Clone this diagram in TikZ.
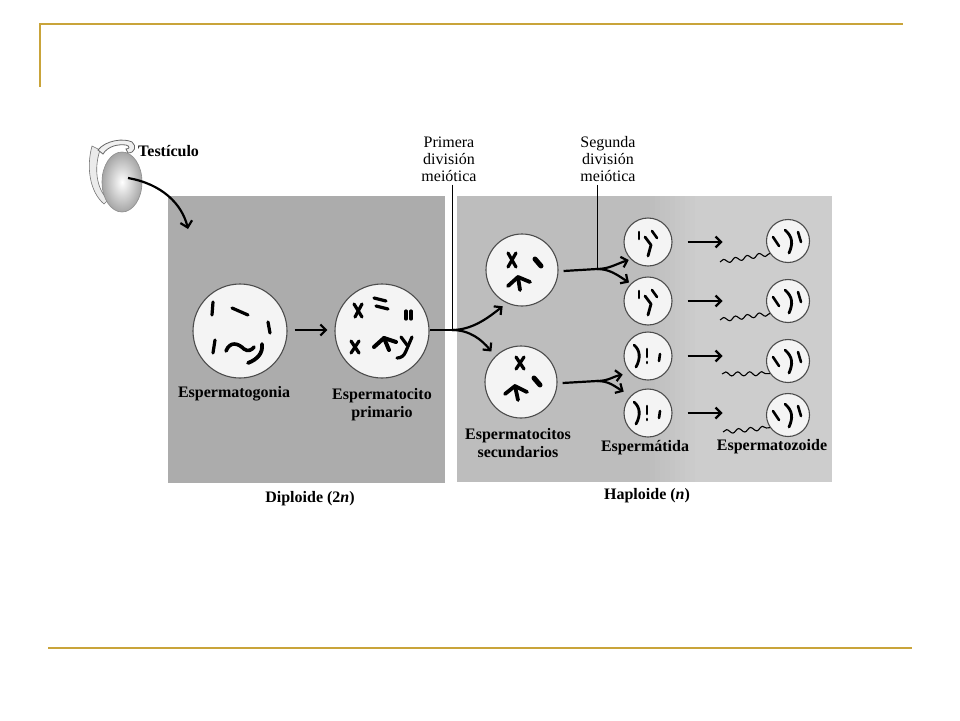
\documentclass[tikz,border=0pt]{standalone}
\usepackage{fontspec}
\setmainfont{Liberation Serif}
\usetikzlibrary{arrows.meta,decorations.pathmorphing,calc,shapes.geometric}
\definecolor{gold}{HTML}{C9A43A}
\definecolor{boxL}{HTML}{ACACAC}
\definecolor{boxR}{HTML}{BDBDBD}
\definecolor{boxRR}{HTML}{CDCDCD}
\definecolor{cellfill}{HTML}{F4F4F4}
\begin{document}
\begin{tikzpicture}[x=1pt,y=-1pt,
  lab/.style={font=\fontsize{16}{18}\selectfont\bfseries, align=center, inner sep=0pt},
  toplab/.style={font=\fontsize{16}{17}\selectfont, align=center, inner sep=0pt},
  cellbase/.style={circle, draw=black!70, line width=1.1pt, fill=cellfill, inner sep=0pt},
  bigcell/.style={cellbase, minimum size=94pt},
  midcell/.style={cellbase, minimum size=72pt},
  smallcell/.style={cellbase, minimum size=48pt},
  headcell/.style={cellbase, minimum size=43pt},
  chrom/.style={line width=3.2pt, line cap=round, line join=round, black},
  arr/.style={line width=2.2pt, -{Straight Barb[length=5.5pt,width=11pt]}},
  fline/.style={line width=2.2pt},
  tailline/.style={line width=1.1pt, decorate, decoration={snake, amplitude=2pt, segment length=12pt}},
  divline/.style={line width=1pt},
]
\useasboundingbox (0,0) rectangle (960,720);
\fill[white] (0,0) rectangle (960,720);

% slide frame lines
\draw[gold, line width=2.2pt] (40,87) -- (40,24) -- (903,24);
\draw[gold, line width=2.2pt] (48,648) -- (912,648);

% shaded panels
\fill[boxL] (168,196) rectangle (445,483);
\fill[boxR] (457,196) rectangle (832,482);
\foreach \k in {1,...,10}{
  \pgfmathsetmacro\pc{\k*10}
  \fill[boxRR!\pc!boxR] ({645+5*\k},196) rectangle ({651+5*\k},482);
}
\fill[boxRR] (700,196) rectangle (832,482);

% testicle
\draw[black!55, line width=0.6pt, fill=black!8] (92,146) .. controls (86,168) and (90,192) .. (104,204) -- (108,200) .. controls (96,188) and (94,168) .. (100,150) -- cycle;
\draw[black!60, line width=0.8pt, fill=black!6] (98,150) .. controls (106,140) and (124,138) .. (132,142) .. controls (137,146) and (135,153) .. (128,153) -- (126,149) .. controls (130,149) and (130,146) .. (126,145) .. controls (118,144) and (108,146) .. (103,154) -- cycle;
\node[ellipse, draw=black!45, line width=0.6pt, minimum width=40pt, minimum height=60pt, inner color=white, outer color=black!35] (testis) at (122,182) {};
\coordinate (tstart) at (128,178);
\node[lab, anchor=west] (tlab) at (138,151) {Testículo};
\draw[line width=2.2pt, -{Straight Barb[length=6pt,width=12pt]}] (tstart) .. controls (162,184) and (182,204) .. (188,229);

% cells
\node[bigcell] (g) at (240,331) {};
\node[bigcell] (p) at (382,331) {};
\node[midcell] (s1) at (522,270) {};
\node[midcell] (s2) at (521,382) {};
\node[smallcell] (t1) at (648,242) {};
\node[smallcell] (t2) at (648,301) {};
\node[smallcell] (t3) at (648,356) {};
\node[smallcell] (t4) at (648,413) {};
\node[headcell] (z1) at (788,241) {};
\node[headcell] (z2) at (788,301) {};
\node[headcell] (z3) at (788,361) {};
\node[headcell] (z4) at (788,415) {};

% chromosomes: spermatogonium
\begin{scope}[shift={(g.center)}]
  \draw[chrom] (-27,-29) -- (-28,-16);
  \draw[chrom] (-8,-23) -- (8,-16);
  \draw[chrom] (28,-9) -- (30,2);
  \draw[chrom] (-25,9) -- (-27,22);
  \draw[chrom, line width=3.6pt] (-14,20) .. controls (-10,10) and (-2,12) .. (4,18) .. controls (8,21) and (12,19) .. (14,16);
  \draw[chrom, line width=3.8pt] (22,13) .. controls (23,22) and (18,28) .. (8,32);
\end{scope}
% primary spermatocyte
\begin{scope}[shift={(p.center)}]
  \draw[chrom] (-28,-27) -- (-20,-14); \draw[chrom] (-20,-27) -- (-27,-14);
  \draw[chrom] (-8,-33) -- (4,-30); \draw[chrom] (-6,-25) -- (6,-22);
  \draw[chrom] (24,-20) -- (24,-12); \draw[chrom] (29,-20) -- (29,-12);
  \draw[chrom] (-31,10) -- (-23,22); \draw[chrom] (-23,10) -- (-31,22);
  \draw[chrom, line width=4pt] (-8,16) -- (2,7) -- (14,11); \draw[chrom, line width=4pt] (2,7) -- (7,19);
  \draw[chrom] (19,6) -- (25,14); \draw[chrom] (30,6) -- (24,20) .. controls (22,25) and (19,27) .. (15,27);
\end{scope}
% secondary spermatocytes
\begin{scope}[shift={(s1.center)}]
  \draw[chrom] (-14,-17) -- (-6,-3); \draw[chrom] (-6,-17) -- (-14,-3);
  \draw[chrom, line width=5pt] (13,-11) -- (19,-4);
  \draw[chrom, line width=3.8pt] (-14,16) -- (-4,7) -- (8,12); \draw[chrom, line width=3.8pt] (-4,7) -- (-2,20);
\end{scope}
\begin{scope}[shift={(s2.center)}]
  \draw[chrom] (-5,-25) -- (3,-13); \draw[chrom] (3,-25) -- (-5,-13);
  \draw[chrom, line width=5pt] (13,-4) -- (19,3);
  \draw[chrom, line width=3.8pt] (-16,12) -- (-6,4) -- (6,10); \draw[chrom, line width=3.8pt] (-6,4) -- (-3,18);
\end{scope}
% spermatids
\foreach \t in {t1,t2}{
\begin{scope}[shift={(\t.center)}]
  \draw[chrom, line width=2.6pt] (-9,-10) -- (-9,-3);
  \draw[chrom, line width=2.6pt] (4,-11) -- (9,-4);
  \draw[chrom, line width=2.8pt] (-3,-5) -- (3,3) -- (0,14);
\end{scope}}
\foreach \t in {t3,t4}{
\begin{scope}[shift={(\t.center)}]
  \draw[chrom, line width=2.8pt] (-14,-11) .. controls (-8,-6) and (-7,2) .. (-12,11);
  \draw[chrom, line width=2.6pt] (-1,-7) -- (-1,1); \draw[chrom, line width=2.6pt] (-1,6) -- (-1,7);
  \draw[chrom, line width=2.6pt] (12,-2) -- (11,5);
\end{scope}}
% sperm heads
\foreach \z in {z1,z2,z3,z4}{
\begin{scope}[shift={(\z.center)}]
  \draw[chrom, line width=2.6pt] (-15,-4) -- (-9,5);
  \draw[chrom, line width=2.8pt] (-3,-11) .. controls (5,-4) and (5,3) .. (1,12);
  \draw[chrom, line width=2.6pt] (10,-9) -- (13,1);
\end{scope}}
% sperm tails
\draw[tailline] ($(z1.center)+(-68,21)$) -- (z1.215);
\draw[tailline] ($(z2.center)+(-68,19)$) -- (z2.215);
\draw[tailline] ($(z3.center)+(-66,13)$) -- (z3.215);
\draw[tailline] ($(z4.center)+(-65,17)$) -- (z4.215);

% labels
\node[lab] (lg) at (234,394) {Espermatogonia};
\node[lab] (lp) at (382,405) {Espermatocito\\primario};
\node[lab] (ls) at (518,443) {Espermatocitos\\secundarios};
\node[lab] (lt) at (645,448) {Espermátida};
\node[lab] (lz) at (772,447) {Espermatozoide};
\node[lab] (dip) at (310,499) {Diploide (2\textit{n})};
\node[lab] (hap) at (647,496) {Haploide (\textit{n})};
\node[toplab] (prim) at (449,159) {Primera\\división\\meiótica};
\node[toplab] (seg) at (608,159) {Segunda\\división\\meiótica};

% arrows
\draw[arr] ([xshift=7pt,yshift=1pt]g.east) -- ([xshift=-7pt,yshift=1pt]p.west);
\coordinate (f1) at (452,330);
\draw[divline] (f1 |- prim.south) ++(0,3) -- (f1);
\draw[fline] ([yshift=1pt]p.east) -- (f1);
\draw[arr, shorten >=5pt] (f1) .. controls (472,330) and (488,318) .. (s1.245);
\draw[arr, shorten >=6pt] (f1) .. controls (470,330) and (482,340) .. (s2.135);

\coordinate (f2) at (597,269);
\draw[divline] (f2 |- seg.south) ++(0,3) -- (f2);
\draw[fline] ([xshift=5pt,yshift=-1pt]s1.east) -- (f2);
\draw[arr, shorten >=2pt] (f2) .. controls (609,269) and (616,264) .. (t1.225);
\draw[arr, shorten >=2pt] (f2) .. controls (609,269) and (616,274) .. (t2.135);

\coordinate (f3) at (597,381);
\draw[fline] ([xshift=5pt,yshift=-1pt]s2.east) -- (f3);
\draw[arr, shorten >=8pt] (f3) .. controls (609,381) and (614,376) .. (t3.225);
\draw[arr, shorten >=8pt] (f3) .. controls (609,381) and (614,386) .. (t4.135);

\foreach \t in {t1,t2,t3,t4}{
  \draw[arr] ([xshift=15pt]\t.east) -- ++(35,0);
}
\end{tikzpicture}
\end{document}
